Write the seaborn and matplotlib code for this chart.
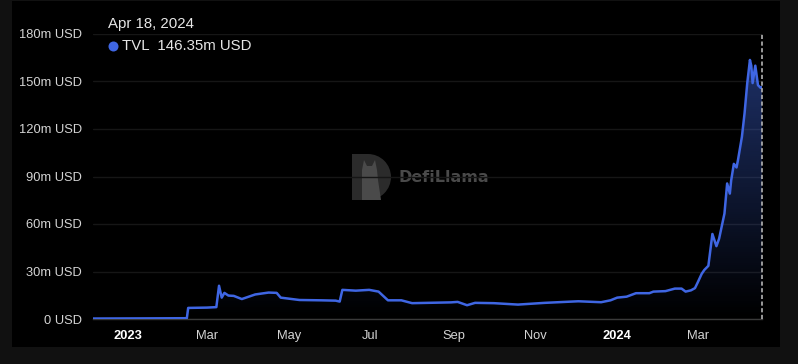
import numpy as np
import pandas as pd
import matplotlib
matplotlib.use("Agg")
import matplotlib.pyplot as plt
import matplotlib.dates as mdates
from matplotlib.patches import Rectangle, Wedge, Polygon, Circle
import seaborn as sns

# ---------------- data (TVL in millions USD) ----------------
dates = [
    "2022-12-06", "2023-01-15", "2023-02-14", "2023-02-15", "2023-03-01", "2023-03-08",
    "2023-03-10", "2023-03-12", "2023-03-14", "2023-03-17", "2023-03-21", "2023-03-27",
    "2023-04-06", "2023-04-16", "2023-04-22", "2023-04-25", "2023-05-09", "2023-05-25",
    "2023-06-05", "2023-06-08", "2023-06-10", "2023-06-20", "2023-06-30", "2023-07-07",
    "2023-07-14", "2023-07-24", "2023-08-01", "2023-08-30", "2023-09-04", "2023-09-11",
    "2023-09-17", "2023-10-01", "2023-10-19", "2023-11-08", "2023-12-03", "2023-12-20",
    "2023-12-27", "2024-01-01", "2024-01-08", "2024-01-15", "2024-01-25", "2024-01-28",
    "2024-02-06", "2024-02-13", "2024-02-18", "2024-02-21", "2024-02-25", "2024-02-28",
    "2024-03-01", "2024-03-04", "2024-03-06", "2024-03-09", "2024-03-12", "2024-03-15",
    "2024-03-17", "2024-03-21", "2024-03-23", "2024-03-25", "2024-03-26", "2024-03-28",
    "2024-03-30", "2024-03-31", "2024-04-03", "2024-04-05", "2024-04-07", "2024-04-09",
    "2024-04-10", "2024-04-11", "2024-04-13", "2024-04-15", "2024-04-17", "2024-04-18",
]
tvl = [
    0.3, 0.4, 0.5, 7.0, 7.2, 7.5,
    21.0, 13.5, 16.5, 14.8, 14.6, 12.6,
    15.5, 16.7, 16.5, 13.5, 12.0, 11.8,
    11.6, 11.0, 18.4, 17.9, 18.4, 17.3,
    11.8, 11.8, 10.0, 10.5, 10.8, 8.7,
    10.2, 10.0, 9.1, 10.2, 11.2, 10.6,
    11.8, 13.5, 14.1, 16.3, 16.3, 17.3,
    17.6, 19.2, 19.2, 17.3, 18.1, 19.5,
    23.0, 28.5, 31.0, 33.6, 53.7, 46.0,
    50.7, 66.6, 85.6, 79.2, 87.5, 98.0,
    95.7, 100.0, 115.0, 130.0, 149.0, 163.6,
    160.0, 149.0, 160.0, 147.7, 146.0, 146.35,
]
xtick_dates = ["2023-01-01", "2023-03-01", "2023-05-01", "2023-07-01",
               "2023-09-01", "2023-11-01", "2024-01-01", "2024-03-01"]
xtick_labels = ["2023", "Mar", "May", "Jul", "Sep", "Nov", "2024", "Mar"]
ytick_values = [0, 30, 60, 90, 120, 150, 180]
ytick_labels = ["0 USD", "30m USD", "60m USD", "90m USD", "120m USD", "150m USD", "180m USD"]
tooltip_date = "Apr 18, 2024"
tooltip_value = "146.35m USD"

df = pd.DataFrame({"date": pd.to_datetime(dates), "tvl": tvl})

# ---------------- style ----------------
sns.set_theme(style="dark")
plt.rcParams["font.family"] = ["Liberation Sans", "DejaVu Sans"]

W, H = 798, 364
fig = plt.figure(figsize=(W / 100, H / 100), dpi=100)
fig.patch.set_facecolor("#111111")

# background / decoration layer in pixel coordinates
bg = fig.add_axes([0, 0, 1, 1], zorder=-1)
bg.set_xlim(0, W)
bg.set_ylim(H, 0)
bg.axis("off")
bg.add_patch(Rectangle((12, 1), 768, 346, facecolor="#000000", edgecolor="none"))
# DefiLlama watermark
bg.add_patch(Rectangle((352, 154), 16, 46, facecolor="#2b2b2b", edgecolor="none"))
bg.add_patch(Wedge((368, 177), 23, -90, 90, facecolor="#2b2b2b", edgecolor="none"))
bg.add_patch(Polygon([(362, 200), (362, 170), (364, 160), (367, 166), (372, 166),
                      (375, 160), (377, 170), (378, 180), (381, 200)],
                     closed=True, facecolor="#4a4a4a", edgecolor="none"))
bg.text(398, 178, "DefiLlama", color="#4a4a4a", fontsize=11.5, fontweight="bold",
        ha="left", va="center", family=["DejaVu Sans"])

# main axes
x0, x1 = 93, 762
y0, y1 = 319, 34
ax = fig.add_axes([x0 / W, 1 - y0 / H, (x1 - x0) / W, (y0 - y1) / H])
ax.set_facecolor("none")

line_color = "#3f66e3"
sns.lineplot(data=df, x="date", y="tvl", ax=ax, color=line_color, linewidth=1.8, zorder=3)

xmin = pd.Timestamp("2022-12-06")
xmax = pd.Timestamp("2024-04-18")

# gradient fill under curve
xn = mdates.date2num(df["date"])
poly_x = np.concatenate([[xn[0]], xn, [xn[-1]]])
poly_y = np.concatenate([[0], df["tvl"].values, [0]])
clip = Polygon(np.column_stack([poly_x, poly_y]), closed=True, transform=ax.transData,
               facecolor="none", edgecolor="none")
ax.add_patch(clip)
grad = np.zeros((256, 1, 4))
grad[:, 0, 0] = 65 / 255
grad[:, 0, 1] = 105 / 255
grad[:, 0, 2] = 225 / 255
grad[:, 0, 3] = np.linspace(0.5, 0.0, 256)
im = ax.imshow(grad, aspect="auto", extent=[xn[0], xn[-1], 0, 180], origin="upper", zorder=2)
im.set_clip_path(clip)
ax.set_xlim(xmin, xmax)
ax.set_ylim(0, 180)

# grid and axes
ax.grid(axis="y", color="#161616", linewidth=1)
ax.grid(axis="x", visible=False)
for s in ["top", "right", "left"]:
    ax.spines[s].set_visible(False)
ax.spines["bottom"].set_color("#3a3a3a")
ax.spines["bottom"].set_linewidth(1)

ax.set_yticks(ytick_values)
ax.set_yticklabels(ytick_labels)
ax.set_xticks(pd.to_datetime(xtick_dates))
ax.set_xticklabels(xtick_labels)
ax.tick_params(axis="y", length=0, pad=8, labelsize=9.3, labelcolor="#d4d4d4")
ax.tick_params(axis="x", length=4, width=1, color="#aaaaaa", pad=4, labelsize=9.3,
               labelcolor="#d4d4d4", direction="out")
for lbl in ax.get_xticklabels():
    if lbl.get_text() in ("2023", "2024"):
        lbl.set_fontweight("bold")
        lbl.set_color("#ffffff")
ax.set_xlabel("")
ax.set_ylabel("")

# hover crosshair
ax.axvline(xmax, color="#b4b4b4", linestyle=(0, (2.5, 1.5)), linewidth=1.2, zorder=4,
           clip_on=False)

# tooltip
bg.text(108, 24, tooltip_date, color="#e6e6e6", fontsize=10.8, ha="left", va="center")
bg.add_patch(Circle((113.5, 46.5), 5, facecolor=line_color, edgecolor="none"))
bg.text(122, 46.5, "TVL  " + tooltip_value, color="#e6e6e6", fontsize=10.8, ha="left",
        va="center")

fig.savefig("out.png", dpi=100, facecolor=fig.get_facecolor())
